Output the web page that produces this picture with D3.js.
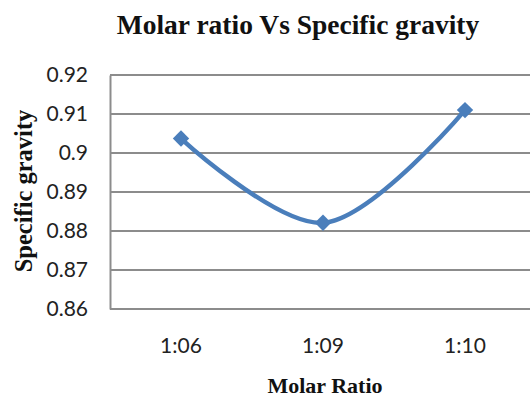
<!DOCTYPE html>
<html><head><meta charset="utf-8">
<script src="https://cdn.jsdelivr.net/npm/d3@7"></script>
<style>html,body{margin:0;padding:0;background:#fff;overflow:hidden}</style>
</head><body>
<svg id="c" width="530" height="400"></svg>
<script>
const categories = ["1:06", "1:09", "1:10"];
const values = [0.9037, 0.8821, 0.911];
const yTicks = [0.86, 0.87, 0.88, 0.89, 0.90, 0.91, 0.92];
const title = "Molar ratio Vs Specific gravity";
const xTitle = "Molar Ratio";
const yTitle = "Specific gravity";

const svg = d3.select("#c");
const mLeft = 110, mRight = 536, mTop = 75, mBottom = 309;
const x = d3.scaleBand().domain(categories).range([mLeft, mRight]);
const y = d3.scaleLinear().domain([0.86, 0.92]).range([mBottom, mTop]);
const grid = "#8c8c8c";
const tickFont = "Lato, 'Open Sans', sans-serif";
const serif = "'Liberation Serif', 'Times New Roman', serif";

// gridlines
svg.append("g").selectAll("line").data(yTicks).join("line")
  .attr("x1", mLeft).attr("x2", mRight)
  .attr("y1", d => y(d)).attr("y2", d => y(d))
  .attr("stroke", grid).attr("stroke-width", 2);

// left axis
const ya = svg.append("g").attr("transform", `translate(${mLeft},0)`)
  .call(d3.axisLeft(y).tickValues(yTicks).tickSize(0).tickPadding(22)
    .tickFormat(d => d3.format(".2~f")(d)));
ya.select(".domain").attr("stroke", grid).attr("stroke-width", 2);
ya.selectAll("text").attr("font-family", tickFont)
  .attr("font-size", 21).attr("fill", "#222");

// bottom axis
const xa = svg.append("g").attr("transform", `translate(0,${mBottom})`)
  .call(d3.axisBottom(x).tickSize(0).tickPadding(29));
xa.select(".domain").remove();
xa.selectAll("text").attr("font-family", tickFont)
  .attr("font-size", 21).attr("fill", "#222");

// line
const pts = categories.map((c, i) => [x(c) + x.bandwidth() / 2, y(values[i])]);
svg.append("path").attr("d", d3.line().curve(d3.curveCatmullRom.alpha(0.5))(pts))
  .attr("fill", "none").attr("stroke", "#4a7ebb").attr("stroke-width", 4.5)
  .attr("stroke-linecap", "round");

// markers
svg.append("g").selectAll("path").data(pts).join("path")
  .attr("transform", d => `translate(${d[0]},${d[1]}) rotate(45)`)
  .attr("d", "M-5.8,-5.8H5.8V5.8H-5.8Z").attr("fill", "#4a7ebb");

// titles
svg.append("text").attr("x", 298).attr("y", 34).attr("text-anchor", "middle")
  .attr("font-family", serif)
  .attr("font-weight", "bold").attr("font-size", 27.5).attr("fill", "#111").text(title);
svg.append("text").attr("x", 325).attr("y", 393).attr("text-anchor", "middle")
  .attr("font-family", serif)
  .attr("font-weight", "bold").attr("font-size", 22).attr("fill", "#111").text(xTitle);
svg.append("text").attr("transform", "translate(32,191) rotate(-90)").attr("text-anchor", "middle")
  .attr("font-family", serif)
  .attr("font-weight", "bold").attr("font-size", 24.5).attr("fill", "#111").text(yTitle);
</script>
</body></html>
